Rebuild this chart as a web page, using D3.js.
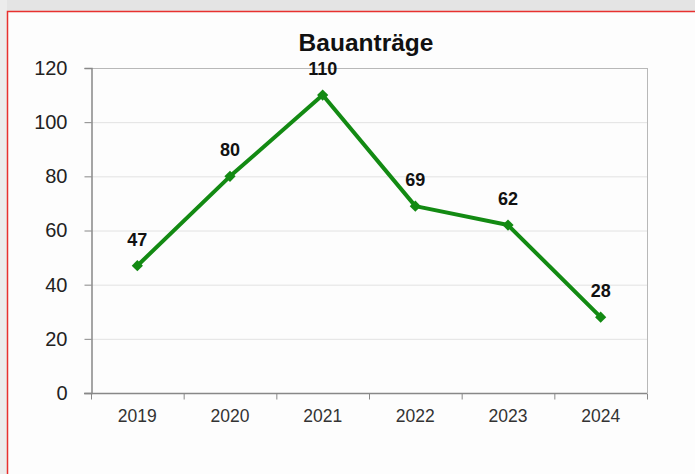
<!DOCTYPE html>
<html>
<head>
<meta charset="utf-8">
<script src="https://cdn.jsdelivr.net/npm/d3@7"></script>
<style>
  body { margin: 0; background: #fff; }
  svg { display: block; font-family: "Liberation Sans", Arial, sans-serif; }
</style>
</head>
<body>
<div class="chart"></div>
<script>
// data
var years = ["2019", "2020", "2021", "2022", "2023", "2024"];
var antraege = [47, 80, 110, 69, 62, 28];
var yTicks = [0, 20, 40, 60, 80, 100, 120];
var title = "Bauanträge";

var svg_w = 695;
var svg_h = 474;
var svg = d3.select("div.chart").append("svg")
  .attr("width", svg_w)
  .attr("height", svg_h);

// background strip outside the red frame
svg.append("rect")
  .attr("x", 0).attr("y", 0)
  .attr("width", svg_w).attr("height", 11)
  .attr("fill", "#e4e4e4");
svg.append("rect")
  .attr("x", 0).attr("y", 0)
  .attr("width", 7).attr("height", svg_h)
  .attr("fill", "#ececec");

// red frame
svg.append("rect")
  .attr("x", 7.5).attr("y", 11.5)
  .attr("width", svg_w + 10).attr("height", svg_h)
  .attr("fill", "#fdfdfd")
  .attr("stroke", "#e8312f")
  .attr("stroke-width", 1.5);

var plot = { left: 91, right: 647, top: 68, bottom: 393 };

var x = d3.scaleBand()
  .domain(years)
  .range([plot.left, plot.right]);

var y = d3.scaleLinear()
  .domain([0, 120])
  .range([plot.bottom, plot.top]);

// gridlines
svg.append("g")
  .selectAll("line")
  .data(yTicks.filter(function(d) { return d > 0; }))
  .enter()
  .append("line")
  .attr("x1", plot.left)
  .attr("x2", plot.right)
  .attr("y1", function(d) { return y(d) + 0.5; })
  .attr("y2", function(d) { return y(d) + 0.5; })
  .attr("stroke", function(d) { return d == 120 ? "#b8b8b8" : "#e2e2e2"; })
  .attr("stroke-width", 1);

// right border
svg.append("line")
  .attr("x1", plot.right + 0.5).attr("x2", plot.right + 0.5)
  .attr("y1", plot.top).attr("y2", plot.bottom)
  .attr("stroke", "#b8b8b8");

// y axis
var yAxis = d3.axisLeft(y)
  .tickValues(yTicks)
  .tickSize(7)
  .tickPadding(17);
var gy = svg.append("g")
  .attr("transform", "translate(" + (plot.left + 0.5) + ",0)")
  .call(yAxis);
gy.select(".domain").attr("stroke", "#888").attr("stroke-width", 1.5);
gy.selectAll(".tick line").attr("stroke", "#888");
gy.selectAll(".tick text")
  .attr("font-size", "20px")
  .attr("fill", "#222")
  .attr("font-family", "Liberation Sans, Arial, sans-serif");

// x axis: ticks on category boundaries
var gx = svg.append("g")
  .attr("transform", "translate(0," + (plot.bottom + 0.5) + ")");
gx.append("line")
  .attr("x1", plot.left - 7).attr("x2", plot.right)
  .attr("stroke", "#888").attr("stroke-width", 1.5);
gx.selectAll("line.tk")
  .data(years.concat(["end"]))
  .enter()
  .append("line")
  .attr("class", "tk")
  .attr("x1", function(d, i) { return plot.left + i * x.bandwidth() + 0.5; })
  .attr("x2", function(d, i) { return plot.left + i * x.bandwidth() + 0.5; })
  .attr("y1", 0).attr("y2", 6)
  .attr("stroke", "#888");
gx.selectAll("text")
  .data(years)
  .enter()
  .append("text")
  .attr("x", function(d) { return x(d) + x.bandwidth() / 2; })
  .attr("y", 28.5)
  .attr("text-anchor", "middle")
  .attr("font-size", "17.5px")
  .attr("fill", "#333")
  .text(function(d) { return d; });

// title
svg.append("text")
  .attr("x", 366)
  .attr("y", 51)
  .attr("text-anchor", "middle")
  .attr("font-size", "24.5px")
  .attr("font-weight", "bold")
  .attr("fill", "#111")
  .text(title);

// line
var pts = years.map(function(d, i) { return { year: d, value: antraege[i] }; });
var cx = function(d) { return x(d.year) + x.bandwidth() / 2; };

svg.append("path")
  .datum(pts)
  .attr("fill", "none")
  .attr("stroke", "#138a13")
  .attr("stroke-width", 4)
  .attr("stroke-linejoin", "round")
  .attr("d", d3.line()
    .x(cx)
    .y(function(d) { return y(d.value); }));

svg.append("g")
  .selectAll("path")
  .data(pts)
  .enter()
  .append("path")
  .attr("transform", function(d) { return "translate(" + cx(d) + "," + y(d.value) + ")"; })
  .attr("d", d3.symbol().type(d3.symbolDiamond2).size(80))
  .attr("fill", "#138a13");

// value labels
svg.append("g")
  .selectAll("text")
  .data(pts)
  .enter()
  .append("text")
  .attr("x", cx)
  .attr("y", function(d) { return y(d.value) - 20; })
  .attr("text-anchor", "middle")
  .attr("font-size", "18px")
  .attr("font-weight", "bold")
  .attr("fill", "#111")
  .text(function(d) { return d.value; });
</script>
</body>
</html>
